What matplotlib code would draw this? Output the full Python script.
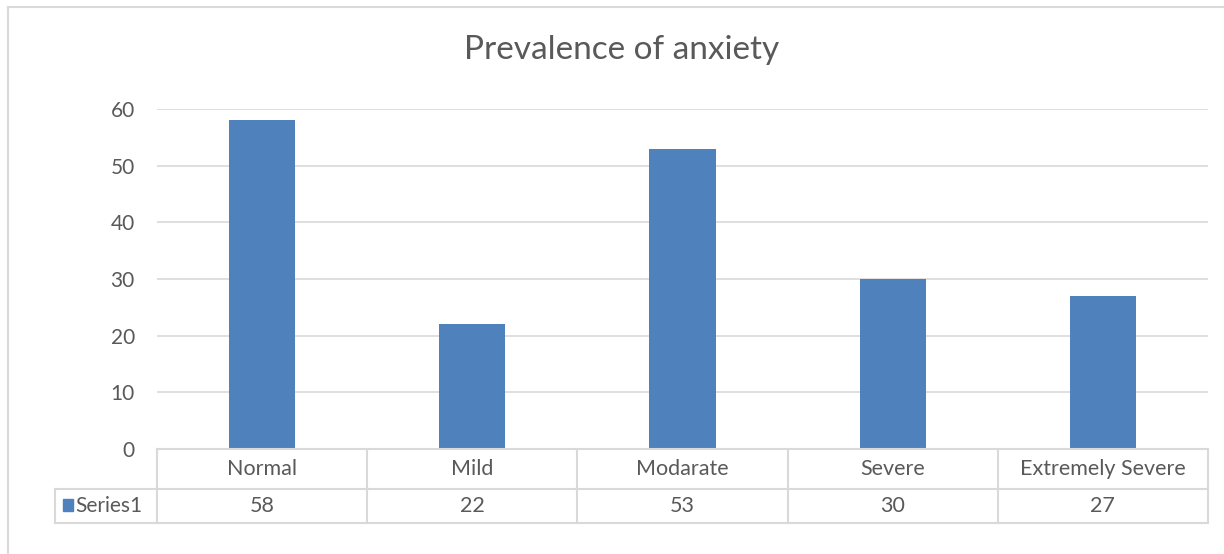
import matplotlib.pyplot as plt
from matplotlib.patches import Rectangle

categorias = ["Normal", "Mild", "Modarate", "Severe", "Extremely Severe"]
valores = [58, 22, 53, 30, 27]
serie = "Series1"
ytks = [0, 10, 20, 30, 40, 50, 60]

azul = "#4f81bd"
gris_texto = "#595959"
gris_linea = "#d9d9d9"

plt.rcParams["font.family"] = ["Lato", "DejaVu Sans"]

W, H = 1224, 554
fig = plt.figure(figsize=(W / 100, H / 100), dpi=100)

def caja(x0, y0, x1, y1):
    # pixel box (origin top-left) -> figure fraction
    return [x0 / W, 1 - y1 / H, (x1 - x0) / W, (y1 - y0) / H]

# outer chart border
fig.add_artist(plt.Line2D([8 / W, 8 / W], [0, 1 - 7 / H], transform=fig.transFigure,
                          color=gris_linea, lw=1.5))
fig.add_artist(plt.Line2D([8 / W, 1], [1 - 7 / H, 1 - 7 / H], transform=fig.transFigure,
                          color=gris_linea, lw=1.5))

# bars
ax = fig.add_axes(caja(157, 109, 1208, 449))
x = list(range(len(categorias)))
ax.bar(x, valores, width=0.315, color=azul, zorder=3)
ax.set_xlim(-0.5, len(categorias) - 0.5)
ax.set_ylim(0, 60)
ax.set_yticks(ytks)
ax.set_yticklabels([str(t) for t in ytks])
ax.set_xticks([])
ax.tick_params(axis="y", length=0, pad=16, labelsize=15, labelcolor=gris_texto)
ax.grid(axis="y", color=gris_linea, lw=1.2, zorder=0)
for s in ax.spines.values():
    s.set_visible(False)

fig.text(622 / W, 1 - 50 / H, "Prevalence of anxiety", ha="center", va="center",
         fontsize=24, color=gris_texto)

# data table under the plot
tb = fig.add_axes(caja(157, 449, 1208, 523))
tb.set_xlim(-0.5, len(categorias) - 0.5)
tb.set_ylim(74, 0)
tb.axis("off")
fila = 40
kw = dict(color=gris_linea, lw=1.5, clip_on=False)
tb.plot([-0.5, len(categorias) - 0.5], [0, 0], **kw)
tb.plot([-0.5 - 102 / 210, len(categorias) - 0.5], [fila, fila], **kw)
tb.plot([-0.5 - 102 / 210, len(categorias) - 0.5], [74, 74], **kw)
tb.plot([-0.5 - 102 / 210] * 2, [fila, 74], **kw)
for i in range(len(categorias) + 1):
    tb.plot([i - 0.5, i - 0.5], [0, 74], **kw)
for i, (c, v) in enumerate(zip(categorias, valores)):
    tb.text(i, fila / 2, c, ha="center", va="center", fontsize=15.5, color=gris_texto)
    tb.text(i, (fila + 74) / 2, str(v), ha="center", va="center", fontsize=15.5,
            color=gris_texto)
tb.add_patch(Rectangle((-0.5 - 94 / 210, 50), 10 / 210, 12, color=azul, clip_on=False))
tb.text(-0.5 - 82 / 210, (fila + 74) / 2, serie, ha="left", va="center", fontsize=15,
        color=gris_texto)

fig.savefig("out.png", dpi=100)
